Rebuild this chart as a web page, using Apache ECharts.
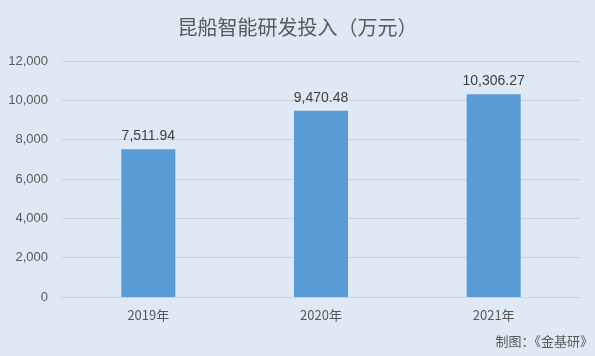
<!DOCTYPE html>
<html><head><meta charset="utf-8">
<script src="https://cdn.jsdelivr.net/npm/echarts@6/dist/echarts.min.js"></script>
<style>html,body{margin:0;padding:0;background:#dee9f5;}#c{width:595px;height:356px;}</style>
</head><body><div id="c"></div>
<script>
var categories = ['2019年', '2020年', '2021年'];
var values = [7511.94, 9470.48, 10306.27];
var yTicks = [0, 2000, 4000, 6000, 8000, 10000, 12000];
var titleText = '昆船智能研发投入（万元）';
var sourceText = '制图：《金基研》';

var fmt = function (v) { return v.toLocaleString('en-US', {minimumFractionDigits: 2, maximumFractionDigits: 2}); };
var chart = echarts.init(document.getElementById('c'));
chart.setOption({
  backgroundColor: '#dee9f5',
  animation: false,
  title: {
    text: titleText, left: 'center', top: 12,
    textStyle: {color: '#595959', fontSize: 20, fontWeight: 'normal', fontFamily: 'Noto Sans CJK SC'}
  },
  graphic: [{
    type: 'text', right: 2, top: 335,
    style: {text: sourceText, fill: '#595959', font: '13px "Noto Sans CJK SC"', letterSpacing: 1.5}
  }],
  grid: {left: 62, right: 15, top: 61, bottom: 59},
  xAxis: {
    type: 'category', data: categories,
    axisLine: {lineStyle: {color: '#d0d0d0'}}, axisTick: {show: false},
    axisLabel: {color: '#595959', fontSize: 13, margin: 12, fontFamily: 'Noto Sans CJK SC'}
  },
  yAxis: {
    type: 'value', min: yTicks[0], max: yTicks[yTicks.length - 1], interval: 2000,
    axisLine: {show: false}, axisTick: {show: false},
    splitLine: {lineStyle: {color: '#d0d0d0'}},
    axisLabel: {color: '#595959', fontSize: 13, margin: 14, fontFamily: 'Liberation Sans',
      formatter: function (v) { return v.toLocaleString('en-US'); }}
  },
  series: [{
    type: 'bar', data: values, barWidth: 54,
    itemStyle: {color: '#5b9bd5'},
    label: {show: true, position: 'top', distance: 6, color: '#404040', fontSize: 14,
      fontFamily: 'Liberation Sans', formatter: function (p) { return fmt(p.value); }}
  }]
});
</script></body></html>
